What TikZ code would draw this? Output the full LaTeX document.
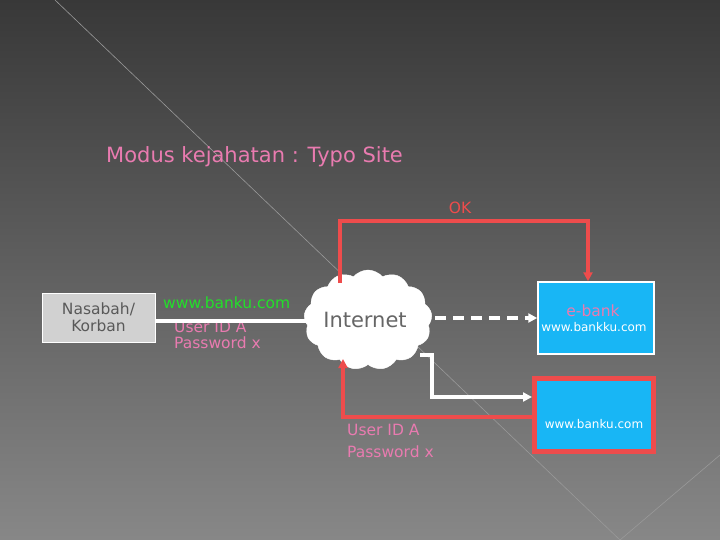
\documentclass[tikz,border=0pt]{standalone}
\usepackage{fontspec}
\setmainfont{DejaVu Sans}
\usetikzlibrary{shapes.symbols,arrows.meta}
\definecolor{pinkt}{HTML}{E97BB0}
\definecolor{redl}{HTML}{EE4C4C}
\definecolor{cyanb}{HTML}{18B6F5}
\definecolor{greent}{HTML}{22E02A}
\begin{document}
\begin{tikzpicture}[x=1pt,y=-1pt,
  lbl/.style={font=\fontsize{15.5}{16}\selectfont, inner sep=0pt},
  redline/.style={draw=redl, line width=3.5pt},
  whiteline/.style={draw=white, line width=4pt},
  tip/.style={-{Triangle[length=9pt,width=9pt]}}]
\shade[top color=black!78, bottom color=black!47] (0,0) rectangle (720,540);
\useasboundingbox (0,0) rectangle (720,540);
\draw[black!40, line width=0.6pt] (55,0) -- (620,540);
\draw[black!40, line width=0.6pt] (620,540) -- (720,455);
\node[lbl, anchor=west, text=pinkt, font=\fontsize{21}{22}\selectfont] (title) at (106,157) {Modus kejahatan : Typo Site};
\node[draw=white, line width=1pt, fill=black!18, minimum width=113pt, minimum height=49pt, align=center, text=black!65, font=\fontsize{15.5}{17}\selectfont, inner sep=0pt] (nas) at (98.5,317.5) {Nasabah/\\Korban};
\node[cloud, cloud puffs=13, cloud puff arc=100, aspect=1.3, fill=white, draw=white, minimum width=128pt, minimum height=100pt, inner sep=0pt] (cloud) at (368,320) {};
\node[lbl, text=black!60, font=\fontsize{21}{22}\selectfont] (inet) at (365,320) {Internet};
\node[fill=cyanb, draw=white, line width=1.5pt, minimum width=116pt, minimum height=72pt, inner sep=0pt] (ebank) at (596,318) {};
\node[lbl, text=pinkt, font=\fontsize{15.5}{16}\selectfont] (eb1) at (593,311) {e-bank};
\node[lbl, text=white, font=\fontsize{12}{12}\selectfont] (eb2) at (594,327) {www.bankku.com};
\node[fill=cyanb, draw=redl, line width=5pt, minimum width=119pt, minimum height=73pt, inner sep=0pt] (fake) at (594,415) {};
\node[lbl, text=white, font=\fontsize{12}{12}\selectfont] (fk) at (594,424) {www.banku.com};
\node[lbl, text=greent, anchor=west] (url) at (163,303) {www.banku.com};
\node[lbl, text=pinkt, anchor=north west, align=left, font=\fontsize{15.5}{15.5}\selectfont] (cred1) at (174,321) {User ID A\\Password x};
\node[lbl, text=pinkt, anchor=north west, align=left, font=\fontsize{15.5}{21.5}\selectfont] (cred2) at (347,424) {User ID A\\Password x};
\node[lbl, text=redl] (ok) at (460,208) {OK};
\coordinate (c1) at (340,283);
\coordinate (c2) at (343,359);
\draw[whiteline, tip] (nas.east |- 0,321) -- (318,321);
\draw[redline, tip] (c1) -- (340,221) -- (588,221) -- (ebank.north -| 588,0);
\draw[white, line width=4.5pt, dash pattern=on 11pt off 7pt, tip] (417,318) -- (ebank.west |- 0,318);
\draw[whiteline, tip] (420,355) -- (432,355) -- (432,397) -- (532,397);
\draw[redline, tip] (532,417) -- (343,417) -- (c2);
\end{tikzpicture}
\end{document}
